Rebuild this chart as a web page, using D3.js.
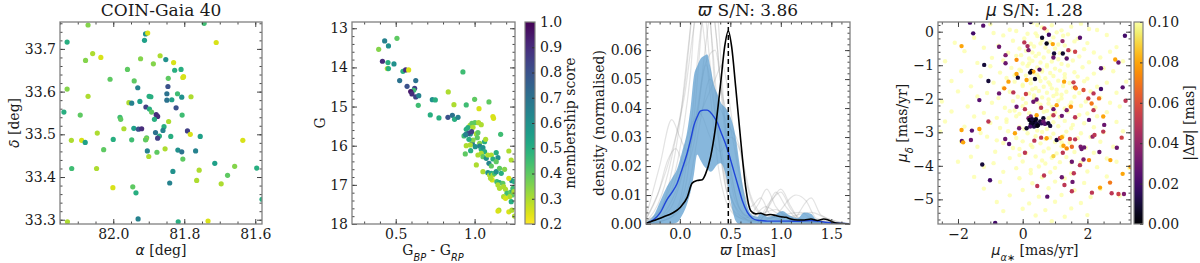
<!DOCTYPE html>
<html><head><meta charset="utf-8">
<script src="https://cdn.jsdelivr.net/npm/d3@7"></script>
<style>
body{margin:0;background:#fff}
svg text{font-family:"DejaVu Serif";fill:#1a1a1a}
.m{font-family:"DejaVu Sans";font-style:italic}
</style>
</head><body><script>
// ---------------- DATA ----------------
// Panel 1: [RA, Dec, membership score]
const skyPoints = [
[82.071,33.756,0.35],[81.744,33.760,0.45],[82.130,33.716,0.5],[81.710,33.715,0.25],[81.909,33.735,0.6],
[81.903,33.737,0.25],[81.912,33.720,0.55],[82.058,33.689,0.3],[82.035,33.680,0.25],[82.078,33.673,0.35],
[81.923,33.677,0.35],[81.887,33.665,0.35],[81.868,33.684,0.3],[81.852,33.675,0.6],[81.830,33.668,0.25],
[81.827,33.650,0.5],[81.809,33.652,0.5],[81.804,33.633,0.25],[81.802,33.635,0.25],[81.845,33.631,0.4],
[81.960,33.652,0.4],[82.009,33.629,0.4],[81.941,33.625,0.4],[82.130,33.606,0.35],[82.071,33.589,0.3],
[81.931,33.609,0.65],[81.846,33.612,0.8],[81.849,33.595,0.7],[81.835,33.581,0.55],[81.849,33.580,0.7],
[81.819,33.595,0.45],[81.807,33.587,0.6],[81.781,33.588,0.3],[82.139,33.552,0.5],[81.956,33.574,0.3],
[81.948,33.573,0.65],[81.925,33.577,0.55],[81.899,33.589,0.5],[81.894,33.588,0.5],[81.908,33.564,0.85],
[81.898,33.559,0.5],[81.892,33.552,0.4],[81.879,33.546,0.9],[81.875,33.542,0.9],[81.823,33.562,0.8],
[82.093,33.545,0.4],[81.981,33.540,0.45],[81.979,33.535,0.4],[81.884,33.535,0.5],[81.844,33.530,0.3],
[81.857,33.518,0.5],[81.860,33.509,0.65],[81.806,33.545,0.45],[81.970,33.513,0.3],[81.942,33.514,0.55],
[81.929,33.512,0.8],[81.920,33.513,0.9],[82.045,33.503,0.3],[81.881,33.504,0.7],[81.870,33.496,0.5],
[81.875,33.491,0.85],[81.906,33.492,0.4],[81.908,33.488,0.3],[81.838,33.495,0.5],[81.791,33.508,0.85],
[81.783,33.500,0.25],[81.755,33.495,0.55],[82.118,33.486,0.3],[82.089,33.486,0.25],[82.079,33.481,0.55],
[82.000,33.488,0.5],[81.948,33.487,0.45],[81.909,33.487,0.4],[81.904,33.461,0.65],[81.900,33.448,0.3],
[81.877,33.458,0.4],[81.854,33.466,0.3],[81.818,33.463,0.6],[81.807,33.459,0.7],[81.768,33.461,0.65],
[81.635,33.486,0.25],[82.027,33.464,0.4],[81.804,33.442,0.4],[81.714,33.432,0.55],[81.658,33.425,0.35],
[82.117,33.420,0.45],[82.047,33.420,0.3],[81.832,33.413,0.6],[81.758,33.416,0.3],[81.678,33.404,0.4],
[81.596,33.421,0.5],[81.841,33.386,0.65],[81.765,33.392,0.3],[81.696,33.384,0.3],[82.001,33.375,0.25],
[81.945,33.377,0.4],[81.936,33.363,0.5],[81.581,33.348,0.5],[81.930,33.302,0.65],[82.129,33.295,0.3],
[81.817,33.295,0.5],[81.733,33.297,0.25]
];
// Panel 2: [BP-RP, G, membership score]
const cmdPoints = [
[0.392,13.537,0.35],[0.430,13.324,0.65],[0.454,13.451,0.6],[0.508,13.256,0.4],[0.416,13.843,0.9],
[0.451,13.877,0.5],[0.447,14.031,0.3],[0.454,14.031,0.5],[0.489,13.911,0.6],[0.546,14.099,0.5],
[0.563,14.065,0.9],[0.582,14.065,0.25],[0.525,14.337,0.7],[0.572,14.482,0.8],[0.627,14.337,0.7],
[0.620,14.533,0.85],[0.614,14.584,0.45],[0.595,14.618,0.95],[0.603,14.678,0.9],[0.627,14.755,0.85],
[0.646,14.721,0.65],[0.643,14.968,0.45],[0.833,14.627,0.3],[0.926,14.116,0.45],[0.719,15.215,0.5],
[0.774,15.291,0.5],[0.732,14.823,0.6],[0.751,14.831,0.5],[0.831,15.274,0.8],[0.859,15.223,0.7],
[0.873,15.325,0.5],[0.895,15.274,0.65],[0.869,14.951,0.3],[0.947,14.959,0.45],[1.000,14.814,0.4],
[1.028,15.053,0.25],[1.091,14.882,0.4],[1.116,15.257,0.25],[1.120,15.300,0.25],[0.947,15.581,0.5],
[0.971,15.479,0.3],[0.983,15.428,0.4],[1.002,15.411,0.4],[0.958,15.538,0.5],[0.973,15.700,0.6],
[0.990,15.530,0.3],[0.947,15.709,0.7],[0.962,15.683,0.8],[0.933,15.751,0.45],[0.981,15.641,0.85],
[0.943,15.717,0.65],[1.011,15.700,0.3],[1.025,15.411,0.3],[1.042,15.462,0.3],[1.021,15.666,0.4],
[1.017,15.794,0.4],[1.165,15.709,0.45],[0.985,15.939,0.7],[0.973,15.981,0.3],[1.004,16.024,0.6],
[0.975,16.126,0.5],[0.941,16.211,0.4],[0.947,15.998,0.3],[1.032,15.939,0.35],[1.032,16.007,0.65],
[1.042,16.092,0.5],[1.053,16.050,0.6],[1.063,16.152,0.5],[1.042,16.194,0.3],[1.053,16.279,0.4],
[1.074,16.322,0.6],[1.084,16.237,0.3],[1.021,16.237,0.3],[1.106,16.237,0.3],[1.116,16.339,0.5],
[1.137,16.177,0.5],[1.148,16.305,0.6],[1.011,16.492,0.3],[1.053,16.663,0.3],[1.091,16.450,0.65],
[1.106,16.518,0.4],[1.137,16.407,0.4],[1.084,16.688,0.6],[1.095,16.748,0.3],[1.106,16.705,0.5],
[1.116,16.748,0.3],[1.112,16.876,0.25],[1.101,16.833,0.3],[1.127,16.705,0.45],[1.137,16.663,0.6],
[1.158,16.578,0.4],[1.169,16.705,0.5],[1.190,16.603,0.35],[1.217,16.135,0.3],[1.232,16.365,0.3],
[1.236,16.893,0.6],[1.253,16.919,0.5],[1.217,16.833,0.25],[1.141,16.919,0.45],[1.158,16.944,0.5],
[1.148,17.002,0.3],[1.179,16.961,0.4],[1.184,17.046,0.3],[1.158,17.088,0.3],[1.196,17.115,0.3],
[1.205,17.217,0.45],[1.226,17.191,0.4],[1.243,17.157,0.6],[1.239,17.259,0.4],[1.222,17.301,0.3],
[1.184,17.301,0.3],[1.196,17.344,0.25],[1.232,17.430,0.5],[1.154,17.646,0.3],[1.148,17.671,0.25],
[1.217,17.688,0.25],[1.236,17.646,0.3],[1.253,17.797,0.3],[1.243,17.088,0.45],[1.249,17.174,0.3],
[0.990,15.854,0.35],[0.964,15.837,0.5],[1.063,15.896,0.5],[1.070,15.837,0.3]
];
// Panel 3: parallax density curves
const bandPlx = [-0.335,-0.258,-0.192,-0.126,-0.076,-0.027,0.023,0.073,0.106,0.139,0.172,0.205,0.238,0.271,0.304,0.338,0.371,0.404,0.454,0.487,0.520,0.553,0.586,0.619,0.669,0.718,0.768,0.801,0.867,0.934,1.016,1.083,1.165,1.232,1.298,1.364,1.463,1.685];
const bandUpper = [0.0005,0.003,0.008,0.013,0.016,0.019,0.025,0.032,0.040,0.051,0.0545,0.057,0.058,0.0585,0.054,0.048,0.045,0.042,0.040,0.038,0.035,0.030,0.022,0.014,0.006,0.003,0.0025,0.004,0.0025,0.003,0.0045,0.003,0.002,0.004,0.0035,0.001,0.0003,0];
const bandLower = [0,0,0,0,0,0.0005,0.003,0.007,0.011,0.017,0.024,0.022,0.020,0.019,0.018,0.019,0.0205,0.021,0.017,0.011,0.005,0.001,0,0,0,0,0,0,0,0,0,0,0,0,0,0,0,0];
const meanDensity = [0.0002,0.0015,0.004,0.0085,0.011,0.014,0.019,0.0245,0.029,0.034,0.037,0.039,0.0393,0.0393,0.0385,0.037,0.035,0.032,0.0275,0.024,0.020,0.016,0.012,0.008,0.004,0.002,0.0013,0.0012,0.001,0.001,0.001,0.001,0.0009,0.0011,0.0012,0.001,0.0005,0.0001];
const clusterPlx = [-0.335,-0.258,-0.159,-0.076,0.006,0.073,0.122,0.172,0.222,0.255,0.304,0.354,0.404,0.444,0.480,0.513,0.553,0.603,0.652,0.702,0.752,0.801,0.851,0.901,0.950,1.000,1.050,1.099,1.166,1.232,1.298,1.364,1.424,1.464,1.513,1.563,1.686];
const clusterDensity = [0.0002,0.0012,0.0025,0.0037,0.0058,0.0092,0.0141,0.0150,0.0153,0.0173,0.0231,0.0335,0.0485,0.0612,0.0666,0.0612,0.0473,0.0288,0.0127,0.0046,0.0035,0.0037,0.0031,0.0033,0.0029,0.0025,0.0023,0.0017,0.0014,0.0014,0.0017,0.0012,0.0017,0.0015,0.0007,0.0002,0];
const clusterPlxMean = 0.48;
const bootstrapCurves = [
[[-0.33,0.0005],[-0.2,0.004],[-0.1,0.015],[0.0,0.035],[0.08,0.06],[0.15,0.078],[0.22,0.07],[0.3,0.045],[0.38,0.02],[0.48,0.006],[0.6,0.002],[0.8,0.001],[1.0,0.003],[1.2,0.001],[1.68,0]],
[[-0.33,0],[-0.1,0.002],[0.0,0.008],[0.1,0.03],[0.2,0.065],[0.28,0.085],[0.36,0.065],[0.45,0.03],[0.55,0.008],[0.7,0.002],[0.85,0.006],[0.95,0.004],[1.1,0.001],[1.68,0]],
[[-0.33,0.003],[-0.2,0.02],[-0.08,0.036],[0.0,0.03],[0.08,0.025],[0.18,0.04],[0.26,0.055],[0.34,0.04],[0.44,0.015],[0.55,0.004],[0.75,0.001],[0.9,0.008],[1.0,0.011],[1.1,0.005],[1.25,0.001],[1.68,0]],
[[-0.33,0.001],[-0.15,0.008],[-0.02,0.022],[0.1,0.05],[0.2,0.09],[0.3,0.07],[0.4,0.03],[0.5,0.01],[0.62,0.003],[0.75,0.0],[0.85,0.004],[0.95,0.011],[1.05,0.006],[1.2,0.001],[1.68,0]],
[[-0.33,0],[-0.1,0.005],[0.05,0.02],[0.15,0.035],[0.25,0.055],[0.35,0.06],[0.42,0.045],[0.52,0.03],[0.6,0.015],[0.7,0.006],[0.8,0.009],[0.9,0.003],[1.1,0.001],[1.3,0.009],[1.4,0.003],[1.68,0]],
[[-0.33,0.002],[-0.2,0.012],[-0.08,0.025],[0.05,0.045],[0.14,0.068],[0.22,0.08],[0.3,0.055],[0.4,0.025],[0.5,0.01],[0.65,0.002],[0.78,0.007],[0.86,0.012],[0.95,0.006],[1.1,0.002],[1.68,0]],
[[-0.33,0],[-0.05,0.003],[0.1,0.015],[0.2,0.035],[0.3,0.05],[0.4,0.04],[0.5,0.033],[0.58,0.028],[0.66,0.014],[0.75,0.005],[0.9,0.002],[1.15,0.01],[1.25,0.008],[1.35,0.002],[1.68,0]],
[[-0.33,0.001],[-0.18,0.01],[-0.05,0.028],[0.05,0.048],[0.12,0.072],[0.2,0.095],[0.28,0.08],[0.36,0.04],[0.46,0.012],[0.56,0.003],[0.7,0.001],[1.2,0.004],[1.3,0.002],[1.68,0]],
[[-0.33,0],[-0.15,0.004],[0,0.015],[0.12,0.03],[0.25,0.042],[0.35,0.05],[0.42,0.055],[0.5,0.04],[0.58,0.02],[0.66,0.008],[0.75,0.003],[0.95,0.005],[1.05,0.003],[1.68,0]],
[[-0.33,0.002],[-0.22,0.01],[-0.12,0.022],[-0.04,0.026],[0.05,0.02],[0.15,0.03],[0.25,0.06],[0.32,0.075],[0.4,0.05],[0.5,0.02],[0.6,0.005],[0.78,0.001],[0.88,0.006],[1.0,0.012],[1.1,0.006],[1.2,0.001],[1.68,0]],
[[-0.33,0],[-0.1,0.002],[0.05,0.012],[0.15,0.04],[0.22,0.07],[0.3,0.1],[0.38,0.07],[0.46,0.03],[0.55,0.01],[0.65,0.003],[1.68,0]],
[[-0.33,0.001],[-0.1,0.01],[0.0,0.02],[0.1,0.033],[0.2,0.038],[0.3,0.03],[0.4,0.025],[0.5,0.03],[0.6,0.025],[0.7,0.01],[0.8,0.004],[1.0,0.002],[1.3,0.004],[1.45,0.002],[1.68,0]]
];
// Panel 4: field stars with |Δϖ| >= 0.1 (pale): [pmra, pmdec]
const pmField = [
[-1.0,0.22],[0.3,0.27],[0.9,0.19],[1.8,0.24],[-0.4,0.06],[0.6,0.13],[1.2,0.04],[1.5,0.15],[2.05,0.08],
[-0.9,-0.04],[-0.2,0.02],[0.15,-0.06],[0.75,0.03],[1.05,-0.02],[1.4,-0.08],[2.3,0.05],[0.45,0.2],
[-1.5,-0.18],[-0.6,-0.11],[0.05,-0.2],[0.45,-0.13],[0.95,-0.17],[1.25,-0.12],[1.7,-0.21],[2.6,-0.1],
[-2.1,-0.33],[-0.3,-0.27],[0.25,-0.36],[0.6,-0.25],[0.85,-0.31],[1.1,-0.38],[1.6,-0.29],[2.0,-0.34],[0.4,-0.05],
[-1.2,-0.48],[-0.75,-0.42],[-0.1,-0.5],[0.35,-0.44],[0.7,-0.47],[1.3,-0.41],[1.9,-0.52],[2.9,-0.46],[1.0,-0.5],
[-1.8,-0.58],[-0.45,-0.63],[0.1,-0.57],[0.5,-0.66],[0.8,-0.59],[1.15,-0.64],[1.45,-0.56],[2.2,-0.62],[2.7,-0.6],[-0.05,-0.7],
[-0.95,-0.78],[-0.2,-0.72],[0.2,-0.8],[0.4,-0.73],[0.65,-0.77],[0.95,-0.71],[1.35,-0.79],[1.75,-0.74],[2.4,-0.77],[0.3,-0.62],
[-2.4,-0.88],[-1.4,-0.93],[-0.6,-0.86],[0.0,-0.95],[0.3,-0.87],[0.55,-0.92],[0.9,-0.89],[1.2,-0.96],[1.55,-0.86],[2.05,-0.91],[3.1,-0.88],[0.75,-0.99],
[-1.0,-1.03],[-0.35,-1.08],[0.15,-1.02],[0.45,-1.07],[0.75,-1.04],[1.0,-1.1],[1.4,-1.01],[1.85,-1.06],[2.5,-1.09],[0.6,-1.14],[-0.1,-1.13],
[-1.9,-1.18],[-0.7,-1.22],[-0.05,-1.17],[0.35,-1.24],[0.6,-1.19],[0.85,-1.23],[1.15,-1.16],[1.6,-1.21],[2.2,-1.25],[2.8,-1.18],[1.3,-1.27],
[-1.3,-1.33],[-0.5,-1.38],[0.1,-1.31],[0.5,-1.36],[0.7,-1.39],[0.95,-1.32],[1.3,-1.37],[1.7,-1.34],[2.0,-1.4],[0.25,-1.42],[-0.25,-1.3],
[-2.2,-1.47],[-0.9,-1.52],[-0.25,-1.49],[0.25,-1.54],[0.55,-1.47],[0.8,-1.51],[1.1,-1.46],[1.45,-1.53],[1.9,-1.48],[2.6,-1.52],[3.2,-1.49],[0.0,-1.58],
[-1.6,-1.63],[-0.6,-1.67],[0.0,-1.62],[0.4,-1.68],[0.65,-1.64],[0.9,-1.69],[1.25,-1.62],[1.55,-1.67],[2.3,-1.64],[1.05,-1.73],
[-2.0,-1.78],[-1.1,-1.83],[-0.4,-1.79],[0.2,-1.84],[0.5,-1.77],[0.75,-1.82],[1.05,-1.86],[1.35,-1.79],[1.75,-1.83],[2.1,-1.78],[2.9,-1.82],[0.35,-1.9],
[-1.4,-1.93],[-0.75,-1.98],[-0.15,-1.94],[0.35,-1.99],[0.6,-1.96],[0.95,-1.92],[1.2,-1.99],[1.6,-1.94],[2.4,-1.97],[0.8,-2.02],
[-2.5,-2.08],[-0.95,-2.12],[-0.3,-2.07],[0.1,-2.13],[0.45,-2.09],[0.8,-2.14],[1.1,-2.06],[1.5,-2.11],[1.95,-2.08],[2.7,-2.12],[0.0,-2.0],
[-1.7,-2.23],[-0.55,-2.27],[0.0,-2.22],[0.55,-2.28],[0.9,-2.24],[1.3,-2.29],[1.8,-2.21],[2.25,-2.26],[3.0,-2.23],[-0.25,-2.35],[0.75,-2.36],
[-2.2,-2.38],[-1.2,-2.42],[-0.4,-2.37],[0.2,-2.43],[0.65,-2.39],[1.0,-2.41],[1.4,-2.38],[2.0,-2.44],[2.6,-2.4],[1.75,-2.48],
[-1.5,-2.53],[-0.8,-2.57],[-0.2,-2.52],[0.8,-2.58],[1.15,-2.54],[1.65,-2.57],[2.3,-2.52],[-0.5,-2.62],
[-2.4,-2.68],[-1.0,-2.72],[-0.5,-2.69],[0.95,-2.7],[1.3,-2.66],[1.9,-2.73],[2.9,-2.69],[1.55,-2.78],
[-1.8,-2.83],[-0.7,-2.87],[-0.1,-2.84],[0.75,-2.9],[1.1,-2.82],[1.5,-2.88],[2.2,-2.85],[0.45,-2.95],
[-2.55,-2.98],[-1.3,-3.02],[-0.45,-2.97],[0.15,-3.03],[0.6,-2.99],[0.95,-3.04],[1.35,-2.98],[1.8,-3.03],[2.5,-3.0],[3.1,-2.97],
[-1.1,-3.13],[-0.2,-3.17],[0.4,-3.12],[0.85,-3.16],[1.25,-3.11],[1.7,-3.18],[2.1,-3.14],[-0.8,-3.24],
[-1.9,-3.28],[-0.6,-3.32],[0.0,-3.27],[0.55,-3.33],[1.0,-3.29],[1.45,-3.31],[2.4,-3.28],[0.25,-3.38],
[-1.4,-3.43],[-0.3,-3.47],[0.3,-3.44],[0.8,-3.48],[1.2,-3.42],[1.95,-3.46],[2.8,-3.43],
[-0.85,-3.58],[0.1,-3.62],[0.65,-3.57],[1.05,-3.63],[1.6,-3.59],[2.2,-3.61],[-0.1,-3.68],
[-1.6,-3.73],[-0.4,-3.77],[0.4,-3.72],[0.9,-3.76],[1.35,-3.74],[2.6,-3.78],[0.6,-3.84],
[-2.0,-3.88],[-0.9,-3.92],[0.0,-3.87],[0.7,-3.93],[1.15,-3.89],[1.8,-3.91],[2.9,-3.88],
[-1.2,-4.03],[-0.2,-4.07],[0.5,-4.02],[1.0,-4.06],[2.3,-4.04],[3.3,-4.07],[0.25,-4.12],
[-0.6,-4.18],[0.25,-4.22],[0.85,-4.19],[1.5,-4.23],[2.0,-4.17],
[-1.5,-4.33],[-0.1,-4.37],[0.6,-4.34],[1.3,-4.38],[2.6,-4.32],
[-0.7,-4.48],[0.3,-4.52],[1.0,-4.47],[1.9,-4.51],
[-1.2,-4.68],[0.0,-4.72],[0.8,-4.67],[1.6,-4.73],[2.4,-4.69],
[-0.4,-4.88],[0.5,-4.92],[1.2,-4.87],[2.1,-4.93],[3.0,-4.89],
[-0.8,-5.08],[0.2,-5.12],[1.0,-5.07],[1.8,-5.11],
[0.0,-5.28],[0.7,-5.32],[1.5,-5.27],[-0.6,-5.35],
[0.4,-5.48],[1.3,-5.52],[2.0,-5.47],[0.9,-5.65],
[0.55,-0.35],[0.2,-0.95],[1.1,-0.82],[0.45,-1.28],[0.85,-1.58],[0.3,-1.72],[1.2,-1.88],[0.55,-2.18],
[-0.1,-2.45],[1.45,-2.2],[0.9,-2.5],[0.05,-2.9],[1.2,-3.3],[0.7,-3.2],[-0.1,-3.5],[1.5,-3.9]
];
// Panel 4: stars coloured by |Δϖ|: [pmra, pmdec, |Δϖ|]
const pmPoints = [
[-1.63,0.27,0.02],[-1.22,0.18,0.025],[0.25,0.29,0.01],[0.67,0.10,0.05],[-1.53,-0.05,0.02],[0.60,-0.18,0.008],
[0.81,-0.09,0.02],[0.93,-0.37,0.08],[0.74,-0.35,0.005],[1.23,-0.28,0.04],[1.77,-0.18,0.025],[3.16,-0.12,0.02],
[-1.89,-0.43,0.08],[-0.73,-0.45,0.03],[0.05,-0.32,0.05],[0.15,-0.43,0.045],[-0.53,-0.70,0.035],[-0.19,-0.84,0.075],
[0.18,-0.55,0.035],[0.97,-0.65,0.01],[0.95,-0.77,0.03],[1.24,-0.65,0.008],[1.36,-0.80,0.025],[1.41,-0.55,0.05],
[1.62,-0.60,0.055],[-0.53,-0.94,0.03],[-1.19,-0.99,0.01],[0.27,-1.17,0.004],[0.33,-1.19,0.08],[0.23,-1.22,0.006],
[0.52,-1.13,0.025],[-0.19,-1.26,0.08],[2.42,-1.09,0.025],[2.86,-0.83,0.08],[2.96,-0.92,0.03],[-1.06,-1.47,0.01],
[-0.15,-1.37,0.01],[0.12,-1.44,0.08],[0.38,-1.41,0.008],[-0.44,-1.49,0.08],[-0.57,-1.69,0.075],[-0.29,-1.81,0.05],
[-0.73,-1.84,0.03],[-1.34,-2.04,0.025],[0.10,-1.86,0.055],[0.43,-2.02,0.03],[1.57,-1.51,0.055],[1.62,-1.66,0.055],
[1.64,-1.69,0.07],[1.88,-1.74,0.06],[2.42,-1.71,0.02],[3.09,-1.66,0.025],[1.28,-1.49,0.08],[2.19,-1.84,0.05],
[2.36,-1.99,0.07],[2.03,-1.99,0.055],[-0.19,-2.24,0.03],[0.07,-2.31,0.05],[0.33,-2.09,0.03],[0.57,-2.27,0.05],
[0.95,-2.31,0.03],[1.36,-2.34,0.035],[1.05,-2.19,0.08],[1.49,-2.24,0.075],[2.13,-2.14,0.07],[2.19,-2.34,0.05],
[3.18,-2.06,0.05],[0.25,-2.53,0.03],[0.43,-2.49,0.08],[0.18,-2.58,0.035],[0.64,-2.58,0.008],[0.95,-2.49,0.05],
[1.21,-2.51,0.03],[1.62,-2.55,0.05],[2.05,-2.63,0.025],[2.49,-2.53,0.08],
[0.21,-2.63,0.005],[0.28,-2.68,0.002],[0.33,-2.71,0.008],[0.38,-2.65,0.003],[0.43,-2.73,0.01],[0.31,-2.78,0.004],
[0.48,-2.78,0.006],[0.35,-2.83,0.012],[0.25,-2.75,0.007],[0.54,-2.68,0.009],[0.59,-2.73,0.015],[0.41,-2.61,0.005],
[0.45,-2.81,0.003],[0.23,-2.83,0.02],[0.29,-2.61,0.01],[0.64,-2.68,0.03],[0.69,-2.75,0.025],[0.79,-2.73,0.01],
[-0.11,-2.88,0.03],[0.12,-2.88,0.008],[0.85,-2.81,0.01],[-1.06,-2.68,0.05],[-1.34,-2.90,0.08],[-1.57,-2.95,0.025],
[-1.89,-2.93,0.08],[-1.60,-3.23,0.03],[-1.88,-3.26,0.025],[-1.84,-3.30,0.08],[-0.54,-3.20,0.03],[-0.42,-3.35,0.025],
[-0.24,-3.03,0.08],[0.36,-3.25,0.05],[0.57,-3.16,0.05],[0.74,-3.18,0.08],[1.05,-3.23,0.01],[1.15,-3.18,0.05],
[1.21,-3.15,0.08],[1.46,-3.20,0.055],[1.62,-3.21,0.05],[1.26,-3.40,0.08],[1.36,-3.48,0.075],[1.52,-3.43,0.065],
[1.79,-3.43,0.035],[1.82,-3.50,0.03],[1.90,-3.45,0.03],[2.16,-3.13,0.04],[2.22,-3.08,0.05],[2.49,-2.98,0.05],
[3.06,-3.16,0.055],[2.91,-3.46,0.03],[2.52,-2.78,0.03],[0.07,-3.61,0.05],[0.95,-3.71,0.09],[1.24,-3.61,0.05],
[1.52,-3.88,0.03],[1.88,-3.81,0.035],[2.37,-3.59,0.03],[2.71,-3.83,0.08],[-1.25,-3.96,0.01],[1.77,-3.98,0.05],
[2.05,-3.83,0.075],[0.66,-4.29,0.05],[1.21,-4.34,0.03],[1.54,-4.48,0.03],[1.58,-4.22,0.05],[-1.01,-4.43,0.02],
[2.39,-4.65,0.08],[2.70,-4.50,0.07],[3.09,-4.24,0.08],[0.45,-4.60,0.05],[1.29,-4.57,0.05],[1.52,-4.76,0.05],
[0.76,-4.92,0.025],[2.14,-4.80,0.05],[2.96,-4.84,0.055],[3.13,-4.84,0.035],[2.75,-4.82,0.05],[-0.85,-5.70,0.02],
[3.33,-4.03,0.08]
];
// Tick values
const skyRaTicks = [82.0,81.8,81.6], skyDecTicks = [33.3,33.4,33.5,33.6,33.7];
const cmdColTicks = [0.5,1.0], cmdMagTicks = [13,14,15,16,17,18];
const scoreTicks = [0.2,0.3,0.4,0.5,0.6,0.7,0.8,0.9,1.0];
const plxTicks = [0.0,0.5,1.0,1.5], densTicks = [0,0.01,0.02,0.03,0.04,0.05,0.06];
const pmraTicks = [-2,0,2], pmdecTicks = [0,-1,-2,-3,-4,-5];
const dplxTicks = [0,0.02,0.04,0.06,0.08,0.10];

// ---------------- DRAW ----------------
const svg = d3.select('body').append('svg').attr('width',1200).attr('height',263);
const defs = svg.append('defs');
const FRAME='#808080', TICK='#333';

function minorVals(dom, step){
  const lo=Math.min(...dom), hi=Math.max(...dom), out=[];
  for(let v=Math.ceil(lo/step-1e-9)*step; v<=hi+1e-9; v+=step) out.push(+v.toFixed(6));
  return out;
}
let clipId=0;
function panel(x, y, xMaj, xMinStep, yMaj, yMinStep, fx, fy){
  const [xl,xr]=x.range(), [yb,yt]=y.range();
  const g = svg.append('g');
  const id='clip'+(clipId++);
  defs.append('clipPath').attr('id',id).append('rect').attr('x',xl).attr('y',yt).attr('width',xr-xl).attr('height',yb-yt);
  const plot = g.append('g').attr('clip-path',`url(#${id})`);
  const axes = g.append('g');
  const xMin = minorVals(x.domain(), xMinStep), yMin = minorVals(y.domain(), yMinStep);
  const style = s => { s.select('.domain').remove(); s.selectAll('line').attr('stroke',TICK).attr('stroke-width',0.9);
    s.selectAll('text').attr('font-family','DejaVu Serif').attr('font-size',14).attr('fill','#1a1a1a'); };
  axes.append('g').attr('transform',`translate(0,${yb})`).call(d3.axisBottom(x).tickValues(xMaj).tickSize(-5).tickPadding(5).tickFormat(fx)).call(style);
  axes.append('g').attr('transform',`translate(0,${yb})`).call(d3.axisBottom(x).tickValues(xMin).tickSize(-2.5).tickFormat('')).call(style);
  axes.append('g').attr('transform',`translate(0,${yt})`).call(d3.axisTop(x).tickValues(xMaj).tickSize(-5).tickFormat('')).call(style);
  axes.append('g').attr('transform',`translate(0,${yt})`).call(d3.axisTop(x).tickValues(xMin).tickSize(-2.5).tickFormat('')).call(style);
  axes.append('g').attr('transform',`translate(${xl},0)`).call(d3.axisLeft(y).tickValues(yMaj).tickSize(-5).tickPadding(4).tickFormat(fy)).call(style);
  axes.append('g').attr('transform',`translate(${xl},0)`).call(d3.axisLeft(y).tickValues(yMin).tickSize(-2.5).tickFormat('')).call(style);
  axes.append('g').attr('transform',`translate(${xr},0)`).call(d3.axisRight(y).tickValues(yMaj).tickSize(-5).tickFormat('')).call(style);
  axes.append('g').attr('transform',`translate(${xr},0)`).call(d3.axisRight(y).tickValues(yMin).tickSize(-2.5).tickFormat('')).call(style);
  axes.append('rect').attr('x',xl).attr('y',yt).attr('width',xr-xl).attr('height',yb-yt).attr('fill','none').attr('stroke',FRAME).attr('stroke-width',1.3);
  return plot;
}
function colorbar(x0,x1,y0,y1,scale,interp,ticks,fmt,id){
  const grad = defs.append('linearGradient').attr('id',id).attr('x1',0).attr('y1',1).attr('x2',0).attr('y2',0);
  d3.range(0,1.0001,0.05).forEach(t=>grad.append('stop').attr('offset',t).attr('stop-color',interp(t)));
  svg.append('rect').attr('x',x0).attr('y',y0).attr('width',x1-x0).attr('height',y1-y0).attr('fill',`url(#${id})`);
  const a = svg.append('g').attr('transform',`translate(${x1},0)`).call(d3.axisRight(scale).tickValues(ticks).tickSize(-3).tickPadding(5).tickFormat(fmt));
  a.select('.domain').remove(); a.selectAll('line').attr('stroke',TICK);
  a.selectAll('text').attr('font-family','DejaVu Serif').attr('font-size',14).attr('fill','#1a1a1a');
  svg.append('rect').attr('x',x0).attr('y',y0).attr('width',x1-x0).attr('height',y1-y0).attr('fill','none').attr('stroke',FRAME).attr('stroke-width',1.2);
}
function label(x,y,rot,parts,size=14){
  const t = svg.append('text').attr('transform',`translate(${x},${y})${rot?' rotate(-90)':''}`).attr('text-anchor','middle').attr('font-size',size);
  parts.forEach(p=>{ const s=t.append('tspan').text(p[0]); if(p[1]) s.attr('class','m'); if(p[2]) s.attr('font-size',size*0.7).attr('baseline-shift',p[2]); });
  return t;
}
const scoreColor = v => d3.interpolateViridis(1 - Math.max(0,Math.min(1,(v-0.2)/0.8)));
const dplxColor = v => d3.interpolateInferno(Math.max(0,Math.min(1,v/0.1)));

// Panel 1
const x1 = d3.scaleLinear().domain([82.150,81.581]).range([60,262]);
const y1 = d3.scaleLinear().domain([33.29,33.763]).range([224,22]);
const p1 = panel(x1,y1,skyRaTicks,0.05,skyDecTicks,0.02,d3.format('.1f'),d3.format('.1f'));
p1.selectAll('circle').data(skyPoints).join('circle').attr('cx',d=>x1(d[0])).attr('cy',d=>y1(d[1])).attr('r',2.6).attr('fill',d=>scoreColor(d[2]));
label(161,16,false,[['COIN-Gaia 40']],17);
label(161,255,false,[['α',1],[' [deg]']]);
label(19,123,true,[['δ',1],[' [deg]']]);

// Panel 2
const x2 = d3.scaleLinear().domain([0.223,1.256]).range([352,515]);
const y2 = d3.scaleLinear().domain([18,12.84]).range([224,22]);
const p2 = panel(x2,y2,cmdColTicks,0.1,cmdMagTicks,0.2,d3.format('.1f'),d3.format('d'));
p2.selectAll('circle').data(cmdPoints).join('circle').attr('cx',d=>x2(d[0])).attr('cy',d=>y2(d[1])).attr('r',2.6).attr('fill',d=>scoreColor(d[2]));
const cb2 = d3.scaleLinear().domain([0.2,1.0]).range([224,22]);
colorbar(525,535,22,224,cb2,t=>d3.interpolateViridis(1-t),scoreTicks,d3.format('.1f'),'gv');
label(325,123,true,[['G']]);
label(433,255,false,[['G'],['BP',1,'sub'],[' - G'],['RP',1,'sub']]);
label(575,123,true,[['membership score']]);

// Panel 3
const x3 = d3.scaleLinear().domain([-0.335,1.685]).range([646,850]);
const y3 = d3.scaleLinear().domain([0,0.0697]).range([224,22]);
const p3 = panel(x3,y3,plxTicks,0.1,densTicks,0.002,d3.format('.1f'),d3.format('.2f'));
const ln = d3.line().x(d=>x3(d[0])).y(d=>y3(d[1])).curve(d3.curveMonotoneX);
p3.selectAll('path.boot').data(bootstrapCurves).join('path').attr('class','boot').attr('d',ln).attr('fill','none').attr('stroke','#9a9a9a').attr('stroke-opacity',0.28).attr('stroke-width',1.2);
const band = bandPlx.map((v,i)=>[v,bandLower[i],bandUpper[i]]);
p3.append('path').datum(band).attr('d',d3.area().x(d=>x3(d[0])).y0(d=>y3(d[1])).y1(d=>y3(d[2])).curve(d3.curveMonotoneX)).attr('fill','#5f9fd0').attr('fill-opacity',0.75);
p3.append('path').datum(bandPlx.map((v,i)=>[v,meanDensity[i]])).attr('d',ln).attr('fill','none').attr('stroke','#1f45d8').attr('stroke-width',1.4);
p3.append('path').datum(clusterPlx.map((v,i)=>[v,clusterDensity[i]])).attr('d',ln).attr('fill','none').attr('stroke','#000').attr('stroke-width',1.6);
p3.append('line').attr('x1',x3(clusterPlxMean)).attr('x2',x3(clusterPlxMean)).attr('y1',224).attr('y2',22).attr('stroke','#000').attr('stroke-width',1.5).attr('stroke-dasharray','5,3');
label(748,16,false,[['ϖ',1],[' S/N: 3.86']],17);
label(748,255,false,[['ϖ',1],[' [mas]']]);
label(604,123,true,[['density (normalised)']]);

// Panel 4
const x4 = d3.scaleLinear().domain([-2.618,3.348]).range([938,1131]);
const y4 = d3.scaleLinear().domain([-5.735,0.289]).range([224,22]);
const p4 = panel(x4,y4,pmraTicks,0.5,pmdecTicks,0.2,d3.format('d'),d3.format('d'));
p4.selectAll('circle.f').data(pmField).join('circle').attr('class','f').attr('cx',d=>x4(d[0])).attr('cy',d=>y4(d[1])).attr('r',2.2).attr('fill',dplxColor(0.1)).attr('fill-opacity',0.75);
p4.selectAll('circle.c').data(pmPoints).join('circle').attr('class','c').attr('cx',d=>x4(d[0])).attr('cy',d=>y4(d[1])).attr('r',2.2).attr('fill',d=>dplxColor(d[2]));
const cb4 = d3.scaleLinear().domain([0,0.1]).range([224,22]);
colorbar(1134,1143,22,224,cb4,d3.interpolateInferno,dplxTicks,d3.format('.2f'),'gi');
label(1034.5,16,false,[['μ',1],[' S/N: 1.28']],17);
label(1035,255,false,[['μ',1],['α∗',1,'sub'],[' [mas/yr]']]);
label(907,123,true,[['μ',1],['δ',1,'sub'],[' [mas/yr]']]);
label(1194,123,true,[['|Δ'],['ϖ',1],['| [mas]']]);
</script></body></html>
